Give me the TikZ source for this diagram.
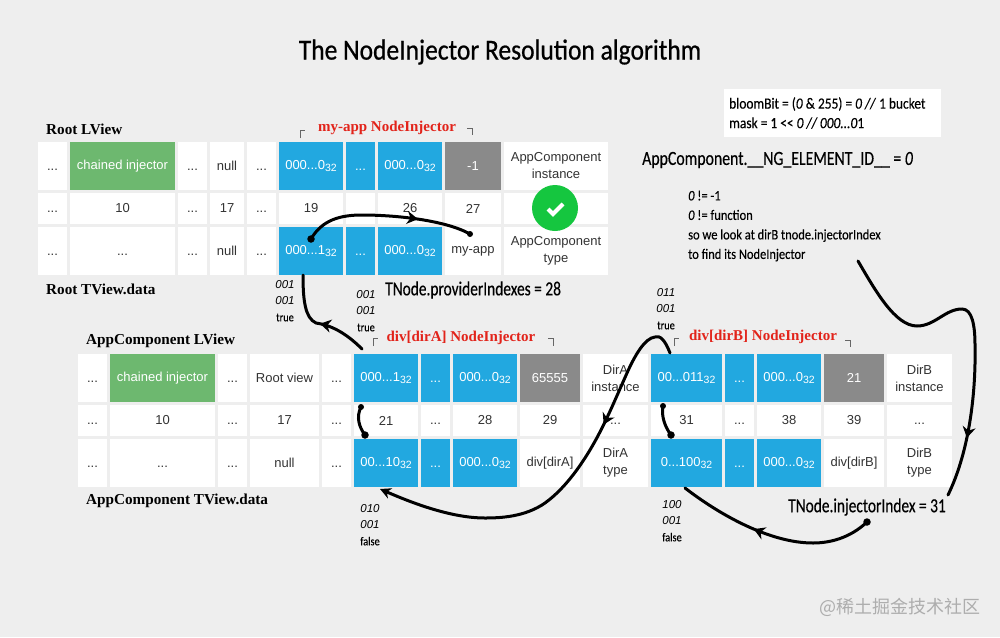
\documentclass[tikz,border=0pt]{standalone}
\usepackage{fontspec}
\setmainfont{Liberation Sans}
\newfontfamily\handfont[FakeStretch=0.86,FakeBold=0.25]{Carlito}
\newfontfamily\bigfont[FakeStretch=0.77,FakeBold=0.35]{Carlito}
\newfontfamily\ngfont[FakeStretch=0.79,FakeBold=0.35]{Carlito}
\newfontfamily\titlefont[FakeStretch=0.88,FakeBold=0.7]{Carlito}
\newfontfamily\slabfont{Liberation Serif}
\newfontfamily\cjkfont{Noto Sans CJK SC}
\usetikzlibrary{arrows.meta,decorations.markings}
\definecolor{bgc}{HTML}{EEEEEE}
\definecolor{bluec}{HTML}{22A8E0}
\definecolor{greenc}{HTML}{6DB86F}
\definecolor{grayc}{HTML}{8A8A8A}
\definecolor{checkc}{HTML}{15C63F}
\definecolor{redc}{HTML}{E2231A}
\definecolor{inkc}{HTML}{333333}
\definecolor{markc}{HTML}{666666}
\newcommand{\cellat}[7]{\node[cellbox,#6,minimum width={(#3-#2)*1pt},minimum height={(#5-#4)*1pt}] (#1) at ({(#2+#3)/2},{(#4+#5)/2}) {#7};}
\newcommand{\subn}[1]{{\fontsize{10.5}{10.5}\selectfont\raisebox{-2.5pt}{#1}}}
\newcommand{\dts}{\vphantom{0}...}
\tikzset{
  cellbox/.style={fill=white,text=inkc,inner sep=0pt,outer sep=0pt,align=center,font=\fontsize{13}{17}\selectfont},
  bluecell/.style={fill=bluec,text=white},
  greencell/.style={fill=greenc,text=white},
  graycell/.style={fill=grayc,text=white},
  slabtext/.style={font=\slabfont\bfseries\fontsize{15.2}{17}\selectfont,text=black,anchor=west,inner sep=0pt},
  redtext/.style={font=\slabfont\bfseries\fontsize{15}{17}\selectfont,text=redc,inner sep=0pt},
  handtext/.style={font=\handfont\fontsize{14.5}{19.5}\selectfont,text=black,anchor=west,inner sep=0pt,align=left},
  bigtext/.style={font=\bigfont\fontsize{20}{22}\selectfont,text=black,anchor=west,inner sep=0pt},
  bitstext/.style={font=\itshape\fontsize{11.5}{16.3}\selectfont,text=black,inner sep=0pt,align=center},
  conn/.style={draw=black,line width=3pt,line cap=round},
  dotmark/.style={circle,fill=black,inner sep=0pt,minimum size=7.5pt},
  corner/.style={draw=markc,line width=.9pt},
  midarrow/.style={postaction={decorate},decoration={markings,mark=at position #1 with {\arrow{Stealth[length=11pt,width=13pt]}}}}
}
\newcommand{\bittrue}[1]{{\handfont\upshape\fontsize{12}{12}\selectfont #1}}
\begin{document}
\begin{tikzpicture}[x=1pt,y=-1pt]
\fill[bgc] (0,0) rectangle (1000,637);
\useasboundingbox (0,0) rectangle (1000,637);
% root grid
\cellat{a1}{38}{67}{142}{190}{}{\dts}
\cellat{a2}{70}{175}{142}{190}{greencell}{chained injector}
\cellat{a3}{178}{207}{142}{190}{}{\dts}
\cellat{a4}{210}{244}{142}{190}{}{null}
\cellat{a5}{247}{276}{142}{190}{}{\dts}
\cellat{a6}{279}{343}{142}{190}{bluecell}{000...0\subn{32}}
\cellat{a7}{346}{375}{142}{190}{bluecell}{\dts}
\cellat{a8}{378}{442}{142}{190}{bluecell}{000...0\subn{32}}
\cellat{a9}{445}{501}{142}{190}{graycell}{-1}
\cellat{a10}{504}{608}{142}{190}{}{AppComponent\\instance}
\cellat{b1}{38}{67}{193}{224}{}{\dts}
\cellat{b2}{70}{175}{193}{224}{}{10}
\cellat{b3}{178}{207}{193}{224}{}{\dts}
\cellat{b4}{210}{244}{193}{224}{}{17}
\cellat{b5}{247}{276}{193}{224}{}{\dts}
\cellat{b6}{279}{343}{193}{224}{}{19}
\cellat{b7}{346}{375}{193}{224}{}{}
\cellat{b8}{378}{442}{193}{224}{}{26}
\cellat{b9}{445}{501}{193}{224}{}{27}
\cellat{b10}{504}{608}{193}{224}{}{}
\cellat{c1}{38}{67}{227}{275}{}{\dts}
\cellat{c2}{70}{175}{227}{275}{}{\dts}
\cellat{c3}{178}{207}{227}{275}{}{\dts}
\cellat{c4}{210}{244}{227}{275}{}{null}
\cellat{c5}{247}{276}{227}{275}{}{\dts}
\cellat{c6}{279}{343}{227}{275}{bluecell}{000...1\subn{32}}
\cellat{c7}{346}{375}{227}{275}{bluecell}{\dts}
\cellat{c8}{378}{442}{227}{275}{bluecell}{000...0\subn{32}}
\cellat{c9}{445}{501}{227}{275}{}{my-app}
\cellat{c10}{504}{608}{227}{275}{}{AppComponent\\type}
% component grid
\cellat{d1}{78}{107}{354}{402}{}{\dts}
\cellat{d2}{110}{215}{354}{402}{greencell}{chained injector}
\cellat{d3}{218}{247}{354}{402}{}{\dts}
\cellat{d4}{250}{319}{354}{402}{}{Root view}
\cellat{d5}{322}{351}{354}{402}{}{\dts}
\cellat{d6}{354}{418}{354}{402}{bluecell}{000...1\subn{32}}
\cellat{d7}{421}{450}{354}{402}{bluecell}{\dts}
\cellat{d8}{453}{517}{354}{402}{bluecell}{000...0\subn{32}}
\cellat{d9}{520}{580}{354}{402}{graycell}{65555}
\cellat{d10}{583}{648}{354}{402}{}{DirA\\instance}
\cellat{d11}{651}{722}{354}{402}{bluecell}{00...011\subn{32}}
\cellat{d12}{725}{754}{354}{402}{bluecell}{\dts}
\cellat{d13}{757}{821}{354}{402}{bluecell}{000...0\subn{32}}
\cellat{d14}{824}{884}{354}{402}{graycell}{21}
\cellat{d15}{887}{952}{354}{402}{}{DirB\\instance}
\cellat{e1}{78}{107}{405}{436}{}{\dts}
\cellat{e2}{110}{215}{405}{436}{}{10}
\cellat{e3}{218}{247}{405}{436}{}{\dts}
\cellat{e4}{250}{319}{405}{436}{}{17}
\cellat{e5}{322}{351}{405}{436}{}{\dts}
\cellat{e6}{354}{418}{405}{436}{}{21}
\cellat{e7}{421}{450}{405}{436}{}{\dts}
\cellat{e8}{453}{517}{405}{436}{}{28}
\cellat{e9}{520}{580}{405}{436}{}{29}
\cellat{e10}{583}{648}{405}{436}{}{\dts}
\cellat{e11}{651}{722}{405}{436}{}{31}
\cellat{e12}{725}{754}{405}{436}{}{\dts}
\cellat{e13}{757}{821}{405}{436}{}{38}
\cellat{e14}{824}{884}{405}{436}{}{39}
\cellat{e15}{887}{952}{405}{436}{}{\dts}
\cellat{f1}{78}{107}{439}{487}{}{\dts}
\cellat{f2}{110}{215}{439}{487}{}{\dts}
\cellat{f3}{218}{247}{439}{487}{}{\dts}
\cellat{f4}{250}{319}{439}{487}{}{null}
\cellat{f5}{322}{351}{439}{487}{}{\dts}
\cellat{f6}{354}{418}{439}{487}{bluecell}{00...10\subn{32}}
\cellat{f7}{421}{450}{439}{487}{bluecell}{\dts}
\cellat{f8}{453}{517}{439}{487}{bluecell}{000...0\subn{32}}
\cellat{f9}{520}{580}{439}{487}{}{div[dirA]}
\cellat{f10}{583}{648}{439}{487}{}{DirA\\type}
\cellat{f11}{651}{722}{439}{487}{bluecell}{0...100\subn{32}}
\cellat{f12}{725}{754}{439}{487}{bluecell}{\dts}
\cellat{f13}{757}{821}{439}{487}{bluecell}{000...0\subn{32}}
\cellat{f14}{824}{884}{439}{487}{}{div[dirB]}
\cellat{f15}{887}{952}{439}{487}{}{DirB\\type}
% texts
\node[font=\titlefont\fontsize{29}{30}\selectfont,inner sep=0pt] (title) at (500,52) {The NodeInjector Resolution algorithm};
\node[slabtext] (rootlv) at (46,129) {Root LView};
\node[slabtext] (roottv) at (46,289) {Root TView.data};
\node[slabtext] (applv) at (86,341) {AppComponent LView};
\node[slabtext] (apptv) at (86,501) {AppComponent TView.data};
\node[redtext] (myappinj) at (387,128) {my-app NodeInjector};
\node[redtext] (dirainj) at (461,338) {div[dirA] NodeInjector};
\node[redtext] (dirbinj) at (763,337) {div[dirB] NodeInjector};
\node[bigtext] (provider) at (385,290) {TNode.providerIndexes = 28};
\node[bigtext] (injindex) at (788,507) {TNode.injectorIndex = 31};
\node[bigtext,font=\ngfont\fontsize{20}{22}\selectfont] (ngid) at (642,160) {AppComponent.\_\_NG\_ELEMENT\_ID\_\_ = \textit{0}};
\node[fill=white,minimum width=217pt,minimum height=48pt,inner sep=0pt] (bloombox) at (832.5,113) {};
\node[handtext,font=\handfont\fontsize{15.6}{19.5}\selectfont] (bloomtext) at (729,113) {bloomBit = (\textit{0} \& 255) = \textit{0 //} 1 bucket\\mask = 1 << \textit{0 // 000...0}1};
\node[handtext] (reason) at (688,226) {\textit{0} != -1\\\textit{0} != function\\so we look at dirB tnode.injectorIndex\\to find its NodeInjector};
\node[bitstext] (bits1) at (285,301) {001\\001\\\bittrue{true}};
\node[bitstext] (bits2) at (366,311) {001\\001\\\bittrue{true}};
\node[bitstext] (bits3) at (666,309) {011\\001\\\bittrue{true}};
\node[bitstext] (bits4) at (370,525) {010\\001\\\bittrue{false}};
\node[bitstext] (bits5) at (672,521) {100\\001\\\bittrue{false}};
\node[font=\cjkfont\fontsize{18}{19}\selectfont,text=black!32,inner sep=0pt,anchor=east] (mark) at (981,607) {@稀土掘金技术社区};
% corner ticks
\draw[corner] (300,138) -- (300,130) -- (305,130);
\draw[corner] (467,128) -- (472,128) -- (472,135);
\draw[corner] (373,346) -- (373,338) -- (378,338);
\draw[corner] (548,338) -- (553,338) -- (553,346);
\draw[corner] (674,346) -- (674,338) -- (679,338);
\draw[corner] (845,340) -- (850,340) -- (850,347);
% check
\node[circle,fill=checkc,minimum size=46pt,inner sep=0pt] (okdot) at (555,208) {};
\draw[white,line width=4pt] (548,209) -- (553,214) -- (563,204);
% connector ends
\node[dotmark] (p1) at (311,239) {};
\node[dotmark,minimum size=6pt] (p2) at (470,234) {};
\node[dotmark,minimum size=6pt] (p3) at (361,407) {};
\node[dotmark] (p4) at (365,435) {};
\node[dotmark,minimum size=6pt] (p5) at (663,406) {};
\node[dotmark] (p6) at (671,435) {};
\node[dotmark] (p7) at (867,522) {};
\coordinate (q1) at (362,349);
\coordinate (q2) at (303,275);
\coordinate (q3) at (670,353);
\coordinate (q4) at (380,489);
\coordinate (q5) at (858,261);
\coordinate (q6) at (948,495);
\coordinate (q7) at (685,488);
% connectors
\draw[conn,midarrow=0.68] (p1.center) .. controls (322,220) and (340,215) .. (362,215) .. controls (395,215) and (445,220) .. (p2.center);
\draw[conn,midarrow=0.47] (q1) .. controls (345,332) and (330,325) .. (316,323) .. controls (305,318) and (303,300) .. (q2);
\draw[conn,midarrow=0.32,-{Stealth[length=11pt,width=11pt]}] (q3) .. controls (665,340) and (660,335) .. (655,337) .. controls (645,338) and (635,355) .. (627,373) .. controls (615,400) and (610,412) .. (602,428) .. controls (590,452) and (570,485) .. (545,503) .. controls (525,517) and (500,518) .. (485,518) .. controls (450,518) and (410,502) .. (q4);
\draw[conn] (p3.center) .. controls (356,417) and (359,427) .. (p4.center);
\draw[conn] (p5.center) .. controls (661,416) and (665,427) .. (p6.center);
\draw[conn,midarrow=0.82] (q5) .. controls (875,290) and (895,326) .. (917,326) .. controls (935,326) and (945,309) .. (962,309) .. controls (972,309) and (975,325) .. (975,345) .. controls (976,390) and (970,450) .. (q6);
\draw[conn,midarrow=0.6] (p7.center) .. controls (850,538) and (830,543) .. (813,543) .. controls (770,543) and (720,515) .. (q7);
\end{tikzpicture}
\end{document}
